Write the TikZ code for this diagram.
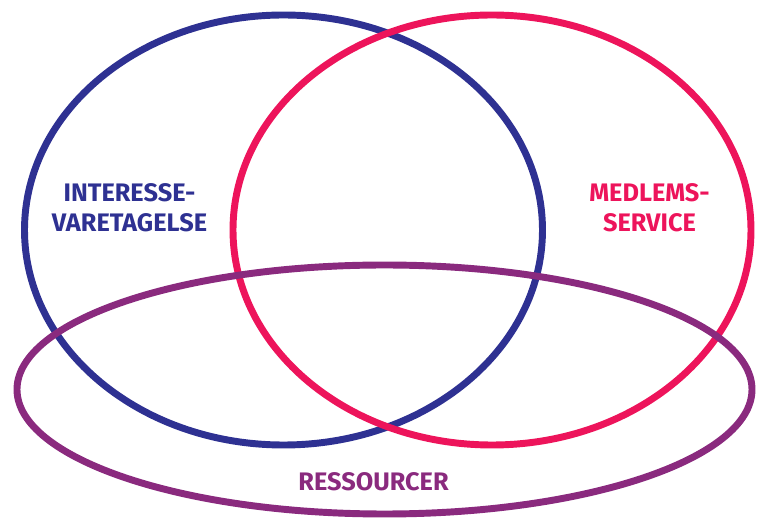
\documentclass[tikz,border=0pt]{standalone}
\usepackage{fontspec}
\newfontfamily\vennfont{Fira Sans}
\definecolor{vblue}{HTML}{2E3192}
\definecolor{vpink}{HTML}{ED145B}
\definecolor{vpurple}{HTML}{8A2A7E}
\begin{document}
\begin{tikzpicture}[x=0.75pt,y=-0.75pt,
  ring/.style={line width=5.2pt},
  vlabel/.style={font=\vennfont\bfseries\fontsize{19}{22.5}\selectfont,align=center,inner sep=0pt}]
\useasboundingbox (0,0) rectangle (758,520);
\draw[ring,vblue] (283.5,230) ellipse [x radius=259, y radius=215];
\draw[ring,vpink] (492,230) ellipse [x radius=259, y radius=215];
\draw[ring,vpurple] (384.5,389.5) ellipse [x radius=367.5, y radius=124.5];
\node[vlabel,text=vblue] (interesse) at (129.5,207.5) {INTERESSE-\\VARETAGELSE};
\node[vlabel,text=vpink] (medlems) at (649.5,207.5) {MEDLEMS-\\SERVICE};
\node[vlabel,text=vpurple] (ressourcer) at (373.5,481.5) {RESSOURCER};
\end{tikzpicture}
\end{document}
